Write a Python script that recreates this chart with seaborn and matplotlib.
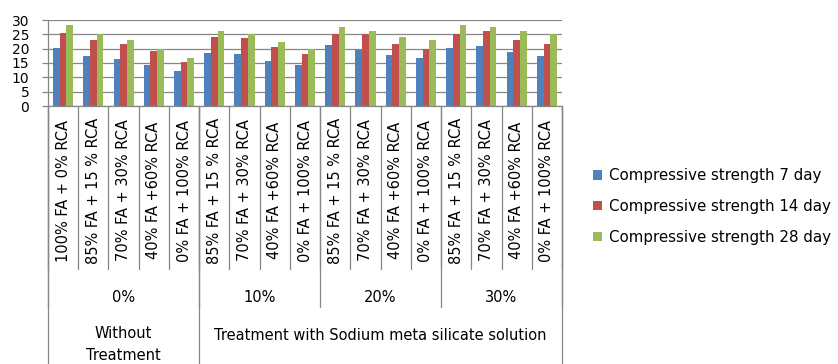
import matplotlib
matplotlib.use("Agg")
import matplotlib.pyplot as plt
from matplotlib.lines import Line2D
from matplotlib.transforms import blended_transform_factory
import pandas as pd
import seaborn as sns

# Mix designs along the category axis
mixes = [
    "100% FA + 0% RCA", "85% FA + 15 % RCA", "70% FA + 30% RCA", "40% FA +60% RCA", "0% FA + 100% RCA",
    "85% FA + 15 % RCA", "70% FA + 30% RCA", "40% FA +60% RCA", "0% FA + 100% RCA",
    "85% FA + 15 % RCA", "70% FA + 30% RCA", "40% FA +60% RCA", "0% FA + 100% RCA",
    "85% FA + 15 % RCA", "70% FA + 30% RCA", "40% FA +60% RCA", "0% FA + 100% RCA",
]
dosages = ["0%", "10%", "20%", "30%"]
dosage_sizes = [5, 4, 4, 4]
treatments = ["Without\nTreatment", "Treatment with Sodium meta silicate solution"]
treatment_sizes = [5, 12]

series_names = [
    "Compressive strength 7 day",
    "Compressive strength 14 day",
    "Compressive strength 28 day",
]
strength_7 = [20.1, 17.6, 16.4, 14.4, 12.1, 18.4, 18.0, 15.7, 14.2,
              21.2, 19.5, 17.7, 16.6, 20.1, 20.9, 19.0, 17.3]
strength_14 = [25.3, 23.1, 21.7, 19.1, 15.2, 24.1, 23.6, 20.7, 18.1,
               25.2, 25.2, 21.7, 20.0, 25.2, 26.0, 23.1, 21.5]
strength_28 = [28.1, 25.1, 23.0, 19.9, 16.9, 26.2, 25.2, 22.2, 20.0,
               27.7, 26.2, 24.1, 23.0, 28.1, 27.7, 26.2, 25.2]
colors = ["#4F81BD", "#C0504D", "#9BBB59"]

rows = []
for name, vals in zip(series_names, [strength_7, strength_14, strength_28]):
    for i, v in enumerate(vals):
        rows.append({"slot": i, "strength": v, "series": name})
df = pd.DataFrame(rows)

sns.set_theme(style="white")
plt.rcParams["font.family"] = ["DejaVu Sans"]
plt.rcParams["text.color"] = "black"
plt.rcParams["xtick.labelcolor"] = "black"
plt.rcParams["ytick.labelcolor"] = "black"

W, H = 838, 364
fig = plt.figure(figsize=(W / 100, H / 100), dpi=100)
left_px, right_px, top_px, bottom_px = 48, 562, 20, 106
ax = fig.add_axes([left_px / W, 1 - bottom_px / H,
                   (right_px - left_px) / W, (bottom_px - top_px) / H])

sns.barplot(data=df, x="slot", y="strength", hue="series", hue_order=series_names,
            palette=colors, saturation=1, width=2 / 3, ax=ax, linewidth=0,
            order=list(range(len(mixes))))

handles, labels = ax.get_legend_handles_labels()
ax.get_legend().remove()

grid_c = "#878787"
ax.set_xlim(-0.5, len(mixes) - 0.5)
ax.set_ylim(0, 30)
ax.set_yticks(range(0, 31, 5))
ax.yaxis.grid(True, color=grid_c, linewidth=0.9)
ax.set_axisbelow(True)
for s in ["top", "right"]:
    ax.spines[s].set_visible(False)
for s in ["left", "bottom"]:
    ax.spines[s].set_color(grid_c)
    ax.spines[s].set_linewidth(0.9)
ax.tick_params(axis="y", length=4.5, width=0.9, color=grid_c, pad=9,
               labelsize=10, labelcolor="black", left=True)
ax.tick_params(axis="x", length=0, labelbottom=False)
ax.set_xlabel("")
ax.set_ylabel("")

# Multi-level category axis drawn below the plot
trans = blended_transform_factory(ax.transData, fig.transFigure)


def fy(px):
    return 1 - px / H


def vline(x, y0, y1):
    fig.add_artist(Line2D([x, x], [fy(y0), fy(y1)], transform=trans,
                          color=grid_c, linewidth=0.9, clip_on=False))


n = len(mixes)
for i in range(n + 1):
    vline(i - 0.5, bottom_px, 269)
b = -0.5
for size in dosage_sizes:
    vline(b, bottom_px, 307)
    b += size
vline(b, bottom_px, 307)
b = -0.5
for size in treatment_sizes:
    vline(b, bottom_px, H)
    b += size
vline(b, bottom_px, H)

fs = 10.5
for i, label in enumerate(mixes):
    fig.text(i, fy(190.5), label, transform=trans, rotation=90,
             ha="center", va="center", fontsize=fs, color="black")

start = 0
for label, size in zip(dosages, dosage_sizes):
    fig.text(start + (size - 1) / 2, fy(297), label, transform=trans,
             ha="center", va="center", fontsize=fs, color="black")
    start += size

start = 0
for label, size in zip(treatments, treatment_sizes):
    cx = start + (size - 1) / 2
    lines = label.split("\n")
    ys = [333, 356] if len(lines) == 2 else [335]
    for line, y in zip(lines, ys):
        fig.text(cx, fy(y), line, transform=trans, ha="center", va="center",
                 fontsize=fs, color="black")
    start += size

fig.legend(handles, labels, loc="center left",
           bbox_to_anchor=(593 / W, fy(206.5)), frameon=False,
           handlelength=0.6, handleheight=0.6, handletextpad=0.45,
           labelspacing=1.05, borderaxespad=0, borderpad=0, fontsize=10.8,
           labelcolor="black")

fig.savefig("out.png", dpi=100, facecolor="white")
